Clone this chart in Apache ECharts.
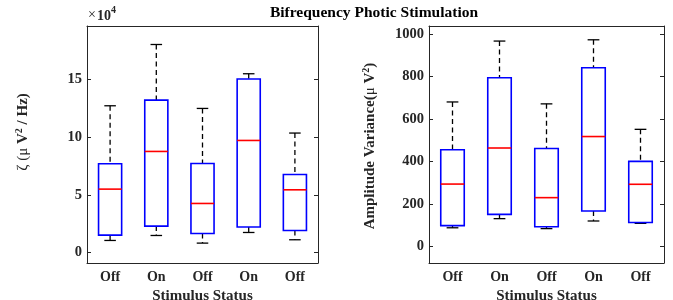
<!DOCTYPE html>
<html>
<head>
<meta charset="utf-8">
<script src="https://cdn.jsdelivr.net/npm/echarts@6/dist/echarts.min.js"></script>
<style>
html, body { margin: 0; padding: 0; background: #fff; }
#main { width: 673px; height: 300px; }
</style>
</head>
<body>
<div id="main"></div>
<script>
var categories = ["Off", "On", "Off", "On", "Off"];

// left panel: zeta, in units of 1e4
var zetaLow = [1.05, 1.48, 0.82, 1.74, 1.11];
var zetaQ1 = [1.51, 2.29, 1.65, 2.21, 1.91];
var zetaMedian = [5.49, 8.75, 4.25, 9.70, 5.43];
var zetaQ3 = [7.68, 13.19, 7.71, 15.01, 6.76];
var zetaHigh = [12.70, 18.0, 12.47, 15.47, 10.34];
var zetaTicks = [0, 5, 10, 15];

// right panel: amplitude variance
var ampLow = [88, 131, 84, 120, 109];
var ampQ1 = [98, 151, 93, 167, 113];
var ampMedian = [294, 464, 230, 518, 293];
var ampQ3 = [456, 795, 462, 842, 401];
var ampHigh = [681, 968, 672, 974, 552];
var ampTicks = [0, 200, 400, 600, 800, 1000];

var axisColor = "#262626";
var serif = "Liberation Serif";

function rows(low, q1, med, q3, high) {
  return categories.map(function (c, i) {
    return [i, low[i], q1[i], med[i], q3[i], high[i]];
  });
}

function renderBox(params, api) {
  var i = api.value(0);
  var band = api.size([1, 0])[0];
  var boxW = band * 0.5;
  var capW = band * 0.25;
  var pLow = api.coord([i, api.value(1)]);
  var pQ1 = api.coord([i, api.value(2)]);
  var pMed = api.coord([i, api.value(3)]);
  var pQ3 = api.coord([i, api.value(4)]);
  var pHigh = api.coord([i, api.value(5)]);
  var x = pLow[0];
  var dash = { stroke: "#000", lineWidth: 1.3, lineDash: [5, 3.5] };
  var solid = { stroke: "#000", lineWidth: 1.3 };
  return {
    type: "group",
    children: [
      { type: "line", shape: { x1: x, y1: pHigh[1], x2: x, y2: pQ3[1] }, style: dash },
      { type: "line", shape: { x1: x, y1: pQ1[1], x2: x, y2: pLow[1] }, style: dash },
      { type: "line", shape: { x1: x - capW / 2, y1: pHigh[1], x2: x + capW / 2, y2: pHigh[1] }, style: solid },
      { type: "line", shape: { x1: x - capW / 2, y1: pLow[1], x2: x + capW / 2, y2: pLow[1] }, style: solid },
      {
        type: "rect",
        shape: { x: x - boxW / 2, y: pQ3[1], width: boxW, height: pQ1[1] - pQ3[1] },
        style: { fill: "rgba(255,255,255,0)", stroke: "#0000ff", lineWidth: 1.6 }
      },
      { type: "line", shape: { x1: x - boxW / 2, y1: pMed[1], x2: x + boxW / 2, y2: pMed[1] }, style: { stroke: "#ff0000", lineWidth: 1.6 } }
    ]
  };
}

function xAxes(gridIndex) {
  return [
    {
      type: "category",
      gridIndex: gridIndex,
      data: categories,
      position: "bottom",
      axisLine: { onZero: false, lineStyle: { color: axisColor, width: 1 } },
      axisTick: { inside: true, alignWithLabel: true, length: 4, lineStyle: { color: axisColor } },
      axisLabel: { fontFamily: serif, fontWeight: "bold", fontSize: 14, color: axisColor, margin: 7 },
      name: "Stimulus Status",
      nameLocation: "middle",
      nameGap: 23,
      nameTextStyle: { fontFamily: serif, fontWeight: "bold", fontSize: 15, color: axisColor }
    },
    {
      type: "category",
      gridIndex: gridIndex,
      data: categories,
      position: "top",
      axisLine: { onZero: false, lineStyle: { color: axisColor, width: 1 } },
      axisTick: { inside: true, alignWithLabel: true, length: 4, lineStyle: { color: axisColor } },
      axisLabel: { show: false }
    }
  ];
}

function yAxes(gridIndex, min, max, ticks) {
  return [
    {
      type: "value",
      gridIndex: gridIndex,
      min: min,
      max: max,
      position: "left",
      splitLine: { show: false },
      axisLine: { show: true, onZero: false, lineStyle: { color: axisColor, width: 1 } },
      axisTick: { show: true, inside: true, length: 4, customValues: ticks, lineStyle: { color: axisColor } },
      axisLabel: {
        customValues: ticks,
        formatter: function (v) { return String(v); },
        fontFamily: serif, fontWeight: "bold", fontSize: 14.5, color: axisColor, margin: 5
      }
    },
    {
      type: "value",
      gridIndex: gridIndex,
      min: min,
      max: max,
      position: "right",
      splitLine: { show: false },
      axisLine: { show: true, onZero: false, lineStyle: { color: axisColor, width: 1 } },
      axisTick: { show: true, inside: true, length: 4, customValues: ticks, lineStyle: { color: axisColor } },
      axisLabel: { show: false }
    }
  ];
}

var labelRich = {
  b: { fontFamily: serif, fontWeight: "bold", fontSize: 15, fill: axisColor, color: axisColor },
  g: { fontFamily: serif, fontSize: 15, fill: axisColor, color: axisColor },
  s: { fontFamily: serif, fontWeight: "bold", fontSize: 10, fill: axisColor, color: axisColor, verticalAlign: "top", lineHeight: 18 }
};

var myChart = echarts.init(document.getElementById("main"));
myChart.setOption({
  animation: false,
  backgroundColor: "#fff",
  grid: [
    { left: 87, top: 26, width: 231, height: 237, outerBoundsMode: "none", containLabel: false },
    { left: 429, top: 26, width: 235, height: 237, outerBoundsMode: "none", containLabel: false }
  ],
  xAxis: xAxes(0).concat(xAxes(1)),
  yAxis: yAxes(0, -0.9, 19.6, zetaTicks).concat(yAxes(1, -78, 1039, ampTicks)),
  series: [
    {
      type: "custom",
      xAxisIndex: 0,
      yAxisIndex: 0,
      renderItem: renderBox,
      encode: { x: 0, y: [1, 2, 3, 4, 5] },
      data: rows(zetaLow, zetaQ1, zetaMedian, zetaQ3, zetaHigh)
    },
    {
      type: "custom",
      xAxisIndex: 2,
      yAxisIndex: 2,
      renderItem: renderBox,
      encode: { x: 0, y: [1, 2, 3, 4, 5] },
      data: rows(ampLow, ampQ1, ampMedian, ampQ3, ampHigh)
    }
  ],
  graphic: [
    {
      type: "text",
      x: 374,
      y: 13,
      style: { text: "Bifrequency Photic Stimulation", align: "center", verticalAlign: "middle", font: "bold 15.5px 'Liberation Serif'", fill: "#000" }
    },
    {
      type: "text",
      x: 88,
      y: 15,
      style: { text: "×", align: "left", verticalAlign: "middle", font: "14px 'Liberation Serif'", fill: axisColor }
    },
    {
      type: "text",
      x: 97,
      y: 16,
      style: { text: "10", align: "left", verticalAlign: "middle", font: "bold 14px 'Liberation Serif'", fill: axisColor }
    },
    {
      type: "text",
      x: 111,
      y: 10,
      style: { text: "4", align: "left", verticalAlign: "middle", font: "bold 10px 'Liberation Serif'", fill: axisColor }
    },
    {
      type: "text",
      x: 23,
      y: 132,
      rotation: Math.PI / 2,
      style: { text: "{g|ζ (μ }{b|V}{s|2}{b| / Hz)}", align: "center", verticalAlign: "middle", rich: labelRich }
    },
    {
      type: "text",
      x: 370,
      y: 146,
      rotation: Math.PI / 2,
      style: { text: "{b|Amplitude Variance(}{g|μ }{b|V}{s|2}{b|)}", align: "center", verticalAlign: "middle", rich: labelRich }
    }
  ]
});
</script>
</body>
</html>
